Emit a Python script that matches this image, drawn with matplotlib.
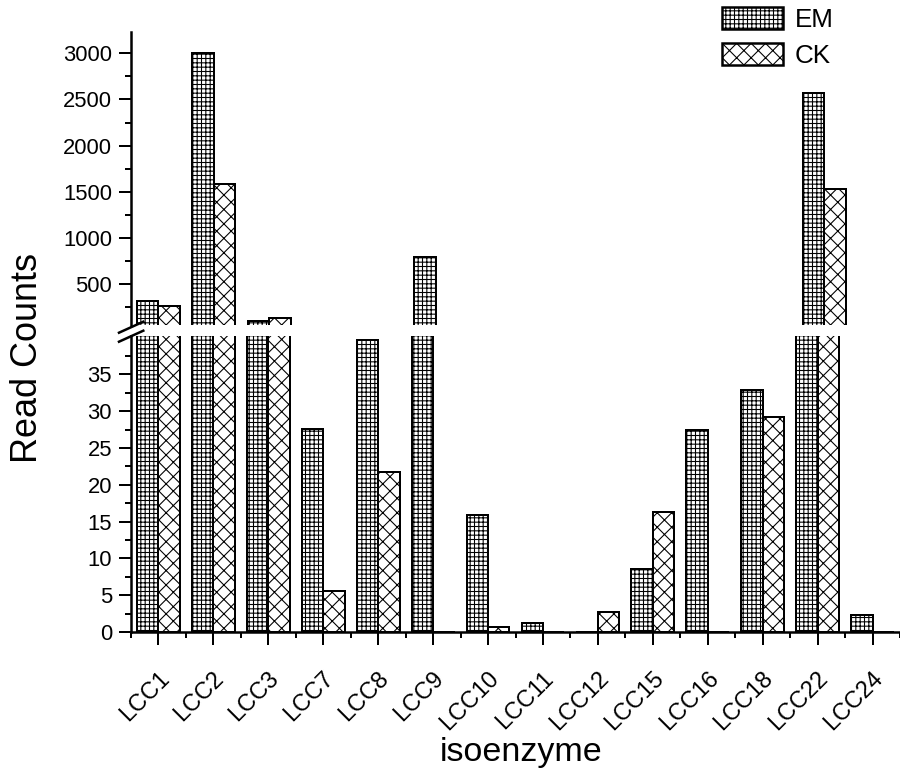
import numpy as np
import matplotlib
matplotlib.use("Agg")
import matplotlib.pyplot as plt
from matplotlib.lines import Line2D
from matplotlib.transforms import ScaledTranslation

# data
genes = ["LCC1", "LCC2", "LCC3", "LCC7", "LCC8", "LCC9", "LCC10", "LCC11",
         "LCC12", "LCC15", "LCC16", "LCC18", "LCC22", "LCC24"]
em = [319, 3000, 103, 27.6, 39.6, 789, 15.9, 1.2, 0, 8.5, 27.5, 32.9, 2566, 2.3]
ck = [262, 1580, 128, 5.6, 21.7, 0, 0.7, 0, 2.7, 16.3, 0, 29.2, 1526, 0]

low_ticks = [0, 5, 10, 15, 20, 25, 30, 35]
high_ticks = [500, 1000, 1500, 2000, 2500, 3000]

DPI = 130
PT = 72.0 / DPI   # pixels -> points

plt.rcParams['font.family'] = ['Liberation Sans', 'DejaVu Sans']
plt.rcParams['hatch.linewidth'] = 0.6

fig = plt.figure(figsize=(900 / DPI, 772 / DPI), dpi=DPI)
W, H = 900.0, 772.0

left = 131 / W
ax_hi = fig.add_axes([left, 1 - 325 / H, 1 - left, (325 - 31.7) / H])
ax_lo = fig.add_axes([left, 1 - 632 / H, 1 - left, (632 - 336) / H])

x = np.arange(len(genes))
w = 0.39

for ax in (ax_hi, ax_lo):
    ax.bar(x - w / 2, em, w, facecolor='white', edgecolor='black',
           hatch='+++++', linewidth=2 * PT, label='EM')
    ax.bar(x + w / 2, ck, w, facecolor='white', edgecolor='black',
           hatch='xxx', linewidth=2 * PT, label='CK')
    ax.set_xlim(-0.49, 13.36)
    ax.spines['top'].set_visible(False)
    ax.spines['right'].set_visible(False)
    ax.spines['left'].set_linewidth(2.5 * PT)
    ax.spines['bottom'].set_linewidth(2.5 * PT)
    ax.tick_params(axis='y', which='major', length=12 * PT, width=2 * PT,
                   pad=7 * PT, labelsize=22 * PT, direction='out')
    ax.tick_params(axis='y', which='minor', length=6 * PT, width=2 * PT,
                   direction='out')

ax_hi.set_ylim(56, 3234)
ax_hi.set_yticks(high_ticks)
ax_hi.set_yticks(np.arange(250, 3250, 250), minor=True)
ax_hi.spines['bottom'].set_visible(False)
ax_hi.tick_params(axis='x', which='both', bottom=False, labelbottom=False)

ax_lo.set_ylim(0, 40.2)
ax_lo.set_yticks(low_ticks)
ax_lo.set_yticks(np.arange(2.5, 40, 2.5), minor=True)
ax_lo.set_xticks(x)
ax_lo.set_xticks(np.arange(-0.5, 13.6, 1), minor=True)
ax_lo.set_xticklabels(genes)
ax_lo.tick_params(axis='x', which='major', length=13 * PT, width=2 * PT,
                  pad=30 * PT, labelsize=23.5 * PT, direction='out')
ax_lo.tick_params(axis='x', which='minor', length=6 * PT, width=2 * PT,
                  direction='out')
offset = ScaledTranslation(7 / DPI, 0, fig.dpi_scale_trans)
for lab in ax_lo.get_xticklabels():
    lab.set_rotation(45)
    lab.set_ha('right')
    lab.set_va('center')
    lab.set_rotation_mode('anchor')
    lab.set_transform(lab.get_transform() + offset)

# break marks on the y axis
for y0 in (332.7, 341.7):
    fig.add_artist(Line2D([119 / W, 143.3 / W], [1 - y0 / H, 1 - (y0 - 11) / H],
                          color='black', linewidth=2.5 * PT))

fig.text(28 / W, 1 - 358 / H, "Read Counts", rotation=90, ha='center',
         va='center', fontsize=36 * PT)
fig.text(521 / W, 1 - 752 / H, "isoenzyme", ha='center', va='center',
         fontsize=34 * PT)

handles, labels = ax_hi.get_legend_handles_labels()
leg = fig.legend(handles, labels, loc='upper left',
                 bbox_to_anchor=(722 / W, 1 - 7 / H), frameon=False,
                 fontsize=26 * PT, handlelength=2.35, handleheight=0.95,
                 handletextpad=0.45, labelspacing=0.42, borderpad=0,
                 borderaxespad=0)
for p in leg.get_patches():
    p.set_linewidth(2.5 * PT)

fig.savefig("out.png", dpi=DPI)
